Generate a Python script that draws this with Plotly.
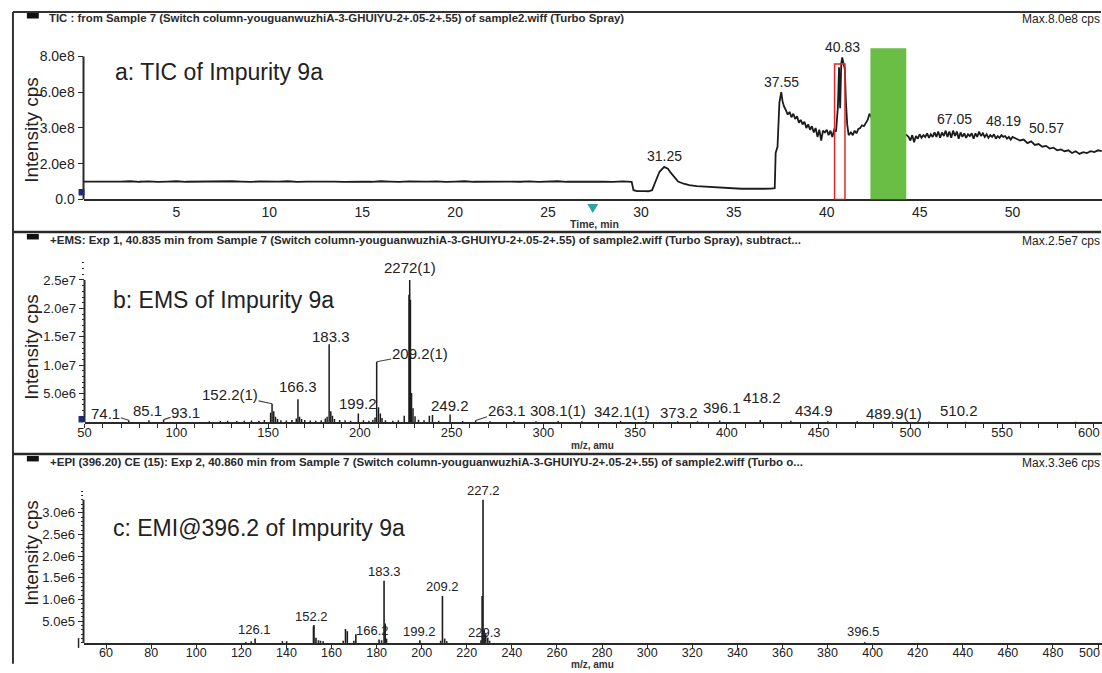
import plotly.graph_objects as go

W, H = 1102, 673
# the page is photographed a little taller than the figure, so vertical
# layout positions are laid out on a slightly stretched pixel grid
SY = 681 / 673
FONT = "Liberation Sans, Arial, sans-serif"
INK = "#222222"
AXIS = "#2a2a2a"

# ---------------- panel a: total ion chromatogram (intensity in 1e8 cps)
tic_time = [
    0.0, 0.5, 1.0, 1.5, 2.0, 2.5, 3.0, 3.5, 4.0, 4.5,
    5.0, 5.5, 6.0, 6.5, 7.0, 7.5, 8.0, 8.5, 9.0, 9.5,
    10.0, 10.5, 11.0, 11.5, 12.0, 12.5, 13.0, 13.5, 14.0, 14.5,
    15.0, 15.5, 16.0, 16.5, 17.0, 17.5, 18.0, 18.5, 19.0, 19.5,
    20.0, 20.5, 21.0, 21.5, 22.0, 22.5, 23.0, 23.5, 24.0, 24.5,
    25.0, 25.5, 26.0, 26.5, 27.0, 27.5, 28.0, 28.5, 29.0, 29.5,
    29.6, 29.8, 30.0, 30.2, 30.4, 30.6, 30.8, 31.0, 31.25, 31.45,
    31.6, 31.8, 32.0, 32.3, 32.6, 33.0, 33.4, 33.8, 34.2, 34.6,
    35.0, 35.4, 35.8, 36.2, 36.6, 37.0, 37.2, 37.25, 37.35, 37.45,
    37.55, 37.62, 37.7, 37.8, 37.9, 38.0, 38.1, 38.2, 38.3, 38.4,
    38.5, 38.6, 38.7, 38.8, 38.9, 39.0, 39.1, 39.2, 39.3, 39.4,
    39.5, 39.6, 39.7, 39.8, 39.9, 40.0, 40.1, 40.2, 40.3, 40.4,
    40.5, 40.6, 40.66, 40.72, 40.78, 40.83, 40.9, 40.97, 41.03, 41.1,
    41.18, 41.3, 41.4, 41.5, 41.6, 41.7, 41.8, 41.9, 42.0, 42.1,
    42.2, 42.3, 42.4, 42.8, 43.4, 44.0, 44.3, 44.4, 44.5, 44.6,
    44.7, 44.8, 44.9, 45.0, 45.1, 45.2, 45.3, 45.4, 45.5, 45.6,
    45.7, 45.8, 45.9, 46.0, 46.1, 46.2, 46.3, 46.4, 46.5, 46.6,
    46.7, 46.8, 46.9, 47.0, 47.1, 47.2, 47.3, 47.4, 47.5, 47.6,
    47.7, 47.8, 47.9, 48.0, 48.1, 48.2, 48.3, 48.4, 48.5, 48.6,
    48.7, 48.8, 48.9, 49.0, 49.1, 49.2, 49.3, 49.4, 49.5, 49.6,
    49.7, 49.8, 49.9, 50.0, 50.2, 50.4, 50.6, 50.8, 51.0, 51.2,
    51.4, 51.6, 51.8, 52.0, 52.2, 52.4, 52.6, 52.8, 53.0, 53.2,
    53.4, 53.6, 53.8, 54.0, 54.2, 54.4, 54.6, 54.8,
]
tic_intensity = [
    1.00, 0.99, 1.01, 0.98, 1.00, 1.02, 0.99, 1.01, 0.98, 1.00,
    1.02, 0.99, 1.00, 0.98, 1.01, 0.99, 1.02, 1.00, 0.98, 1.01,
    0.99, 1.00, 1.02, 0.98, 1.00, 1.01, 0.99, 1.00, 0.98, 1.01,
    1.00, 0.99, 1.02, 1.00, 0.98, 1.01, 0.99, 1.00, 1.01, 0.98,
    1.00, 1.02, 0.99, 1.00, 0.98, 1.01, 1.00, 0.99, 1.01, 0.98,
    1.00, 1.02, 0.99, 1.00, 1.01, 0.99, 1.00, 0.98, 1.01, 0.99,
    0.52, 0.47, 0.45, 0.47, 0.46, 0.52, 1.05, 1.55, 1.82, 1.72,
    1.50, 1.22, 1.00, 0.88, 0.80, 0.75, 0.72, 0.68, 0.66, 0.63,
    0.62, 0.60, 0.61, 0.59, 0.60, 0.61, 0.63, 2.60, 2.95, 5.40,
    6.00, 5.50, 5.20, 5.00, 4.75, 4.90, 4.60, 4.80, 4.50, 4.65,
    4.30, 4.45, 4.20, 4.35, 4.00, 4.20, 3.90, 4.10, 3.75, 4.00,
    3.50, 3.90, 3.30, 3.85, 3.75, 3.90, 3.60, 3.85, 3.50, 3.90,
    3.80, 5.20, 7.40, 5.10, 7.60, 7.95, 7.50, 7.30, 5.50, 4.20,
    3.60, 3.75, 3.60, 3.85, 3.70, 3.95, 4.00, 4.15, 4.10, 4.30,
    4.45, 4.80, 4.60, 4.40, 4.10, 3.80, 3.60, 3.50, 3.30, 3.60,
    3.20, 3.55, 3.40, 3.65, 3.45, 3.60, 3.50, 3.70, 3.45, 3.65,
    3.50, 3.75, 3.50, 3.80, 3.45, 3.75, 3.55, 3.85, 3.50, 3.80,
    3.45, 3.85, 3.55, 3.80, 3.40, 3.75, 3.50, 3.70, 3.45, 3.65,
    3.55, 3.70, 3.40, 3.70, 3.50, 3.80, 3.55, 3.70, 3.50, 3.65,
    3.45, 3.60, 3.50, 3.65, 3.40, 3.55, 3.45, 3.60, 3.50, 3.55,
    3.40, 3.50, 3.35, 3.50, 3.40, 3.30, 3.35, 3.15, 3.25, 3.05,
    3.10, 2.95, 3.00, 2.85, 2.90, 2.75, 2.80, 2.70, 2.75, 2.60,
    2.70, 2.55, 2.65, 2.60, 2.70, 2.65, 2.75, 2.70,
]
tic_peak_labels = ["31.25", "37.55", "40.83"]
tic_peak_times = [31.25, 37.55, 40.83]
tic_extra_labels = ["67.05", "48.19", "50.57"]
tic_extra_times = [46.85, 49.5, 51.8]
tic_extra_levels = [4.5, 4.39, 4.0]
tic_xtick_vals = [5, 10, 15, 20, 25, 30, 35, 40, 45, 50]
tic_ytick_vals = [0, 2, 4, 6, 8]
tic_ytick_text = ["0.0", "2.0e8", "3.0e8", "6.0e8", "8.0e8"]
selected_window = [40.42, 40.98]   # extracted scan window
selected_top = 7.58
masked_window = [42.35, 44.28]     # masked region
masked_top = 8.46

# ---------------- panel b: enhanced MS at 40.835 min (intensity in 1e6 cps)
ems_mz = [74.1, 85.1, 93.1, 118, 124, 128, 133, 137, 141, 145,
          148, 151.4, 152.2, 153.1, 154.1, 155.2, 157, 160, 163, 165.4,
          166.3, 167.2, 168.3, 170, 173, 176, 179, 181.2, 182.2, 183.3,
          184.2, 185.1, 186.2, 189, 192, 195, 199.2, 202, 205, 207.1,
          208.3, 209.2, 210.2, 211.2, 212.1, 214, 218, 221, 224.2, 226.8,
          227.2, 227.6, 228.2, 229.0, 230.1, 232, 235, 237.9, 239.6, 243,
          249.2, 256, 263.1, 271, 284, 296, 308.1, 321, 342.1, 356,
          373.2, 384, 396.1, 418.2, 434.9, 455, 471, 489.9, 510.2, 530,
          560, 590]
ems_int = [0.3, 0.3, 0.4, 0.1, 0.15, 0.2, 0.15, 0.2, 0.25, 0.2,
           0.35, 1.6, 3.2, 1.9, 0.9, 0.5, 0.3, 0.25, 0.35, 0.6,
           4.0, 0.9, 0.5, 0.35, 0.25, 0.2, 0.3, 0.6, 0.9, 13.7,
           1.9, 1.1, 0.5, 0.35, 0.3, 0.2, 1.5, 0.3, 0.2, 0.4,
           0.8, 10.6, 2.6, 1.5, 0.7, 0.3, 0.2, 0.3, 1.1, 22.4,
           25.0, 21.5, 5.1, 2.4, 1.0, 0.4, 0.3, 1.1, 1.2, 0.2,
           1.3, 0.15, 0.25, 0.1, 0.15, 0.1, 0.15, 0.1, 0.15, 0.1,
           0.1, 0.1, 0.25, 0.35, 0.2, 0.1, 0.1, 0.08, 0.08, 0.05,
           0.05, 0.05]
ems_labels = ["74.1", "85.1", "93.1", "152.2(1)", "166.3", "183.3", "199.2",
              "209.2(1)", "2272(1)", "249.2", "263.1", "308.1(1)", "342.1(1)",
              "373.2", "396.1", "418.2", "434.9", "489.9(1)", "510.2"]
ems_label_mz = [74.1, 85.1, 93.1, 152.2, 166.3, 183.3, 199.2,
                209.2, 227.2, 249.2, 263.1, 308.1, 342.1,
                373.2, 396.1, 418.2, 434.9, 489.9, 510.2]
ems_xtick_vals = [50, 100, 150, 200, 250, 300, 350, 400, 450, 500, 550, 600]
ems_ytick_vals = [5, 10, 15, 20, 25]
ems_ytick_text = ["5.0e6", "1.0e7", "1.5e7", "2.0e7", "2.5e7"]

# ---------------- panel c: product-ion spectrum of m/z 396.2 (intensity in 1e6 cps)
emi_mz = [122.0, 124.4, 126.1, 138.2, 140.1, 152.0, 152.2, 153.1, 154.2, 155.1,
          156.3, 165.2, 166.2, 167.0, 169.9, 170.8, 181.1, 182.2, 183.3, 183.8,
          184.4, 199.2, 208.4, 209.2, 210.2, 211.1, 226.3, 226.8, 227.2, 227.7,
          228.4, 229.3, 230.1, 396.5]
emi_int = [0.02, 0.04, 0.10, 0.04, 0.04, 0.38, 0.41, 0.12, 0.06, 0.05,
           0.04, 0.05, 0.32, 0.27, 0.05, 0.20, 0.08, 0.06, 1.43, 0.45,
           0.10, 0.06, 0.05, 1.08, 0.10, 0.04, 0.06, 1.08, 3.30, 0.30,
           0.20, 0.12, 0.05, 0.02]
emi_labels = ["126.1", "152.2", "166.2", "183.3", "199.2", "209.2", "227.2", "229.3", "396.5"]
emi_label_mz = [126.1, 152.2, 166.2, 183.3, 199.2, 209.2, 227.2, 229.3, 396.5]
emi_xtick_vals = list(range(60, 520, 20))
emi_ytick_vals = [0.5, 1.0, 1.5, 2.0, 2.5, 3.0]
emi_ytick_text = ["5.0e5", "1.0e6", "1.5e6", "2.0e6", "2.5e6", "3.0e6"]


def X(px):
    return px / W


def Y(py):
    return 1 - py * SY / H


def sticks(mz, inten):
    xs, ys = [], []
    for m, v in zip(mz, inten):
        xs += [m, m, None]
        ys += [0, v, None]
    return xs, ys


fig = go.Figure()

fig.add_trace(go.Scatter(x=tic_time, y=tic_intensity, mode="lines",
                         line=dict(color="#1c1c1c", width=1.8),
                         xaxis="x", yaxis="y", hoverinfo="skip"))
bx, by = sticks(ems_mz, ems_int)
fig.add_trace(go.Scatter(x=bx, y=by, mode="lines",
                         line=dict(color="#1c1c1c", width=1.5),
                         xaxis="x2", yaxis="y2", hoverinfo="skip"))
cx, cy = sticks(emi_mz, emi_int)
fig.add_trace(go.Scatter(x=cx, y=cy, mode="lines",
                         line=dict(color="#1c1c1c", width=1.6),
                         xaxis="x3", yaxis="y3", hoverinfo="skip"))

tick_font = dict(family=FONT, size=14, color=INK)
small_tick_font = dict(family=FONT, size=13, color=INK)


def xaxis_style(domain, rng, anchor, font, **kw):
    # labels sit right under the line; tick marks come from the minor ticks
    d = dict(domain=domain, range=rng, anchor=anchor, showgrid=False, zeroline=False,
             showline=True, linewidth=2, linecolor=AXIS, ticks="",
             tickfont=font, fixedrange=True, tickmode="array")
    d.update(kw)
    return d


def yaxis_style(domain, rng, anchor, font, **kw):
    d = dict(domain=domain, range=rng, anchor=anchor, showgrid=False, zeroline=False,
             showline=False, ticks="outside", tickcolor=AXIS, tickwidth=1,
             ticklen=5, tickfont=font, fixedrange=True, tickmode="array")
    d.update(kw)
    return d


# panel geometry (target pixels)
A_X0, A_BOT, A_TOP, A_PX_PER_MIN = 77, 199.5, 40, 18.7
A_PX_PER_UNIT = 17.875
B_X0, B_BOT, B_TOP, B_PX_PER_MZ, B_PX_PER_UNIT = 78, 422, 262, 1.847, 5.68
C_X0, C_BOT, C_TOP, C_PX_PER_MZ, C_PX_PER_UNIT = 77, 643, 488, 2.269, 43.4

a_xmax = (W - A_X0) / A_PX_PER_MIN
b_xmax = 50 + (W - B_X0) / B_PX_PER_MZ
c_xmax = 50 + (W - C_X0) / C_PX_PER_MZ

# tick labels that would run past the right edge are placed separately below
b_inner = [v for v in ems_xtick_vals if B_X0 + (v - 50) * B_PX_PER_MZ < W - 14]
c_inner = [v for v in emi_xtick_vals if C_X0 + (v - 50) * C_PX_PER_MZ < W - 14]
b_edge = [v for v in ems_xtick_vals if v not in b_inner]
c_edge = [v for v in emi_xtick_vals if v not in c_inner and v <= c_xmax]

fig.update_layout(
    xaxis=xaxis_style([X(A_X0), 1], [0, a_xmax], "y", tick_font,
                      tickvals=tic_xtick_vals),
    yaxis=yaxis_style([Y(A_BOT), Y(A_TOP)], [0, (A_BOT - A_TOP) / A_PX_PER_UNIT], "x",
                      tick_font, tickvals=tic_ytick_vals, ticktext=tic_ytick_text),
    xaxis2=xaxis_style([X(B_X0), 1], [50, b_xmax], "y2", small_tick_font,
                       tickvals=ems_xtick_vals,
                       ticktext=[str(v) if v in b_inner else "" for v in ems_xtick_vals],
                       minor=dict(tick0=50, dtick=10, ticklen=4, ticks="outside",
                                  tickcolor=AXIS)),
    yaxis2=yaxis_style([Y(B_BOT), Y(B_TOP)], [0, (B_BOT - B_TOP) / B_PX_PER_UNIT], "x2",
                       small_tick_font, tickvals=ems_ytick_vals, ticktext=ems_ytick_text,
                       minor=dict(dtick=1, ticklen=2, ticks="outside", tickcolor=AXIS)),
    xaxis3=xaxis_style([X(C_X0), 1], [50, c_xmax], "y3",
                       dict(family=FONT, size=12.5, color=INK),
                       tickvals=emi_xtick_vals,
                       ticktext=[str(v) if v in c_inner else "" for v in emi_xtick_vals],
                       minor=dict(tick0=0, dtick=20, ticklen=4, ticks="outside",
                                  tickcolor=AXIS)),
    yaxis3=yaxis_style([Y(C_BOT), Y(C_TOP)], [0, (C_BOT - C_TOP) / C_PX_PER_UNIT], "x3",
                       small_tick_font, tickvals=emi_ytick_vals, ticktext=emi_ytick_text,
                       minor=dict(dtick=0.1, ticklen=2, ticks="outside", tickcolor=AXIS)),
    width=W, height=H, margin=dict(l=0, r=0, t=0, b=0),
    paper_bgcolor="white", plot_bgcolor="white", showlegend=False,
    font=dict(family=FONT, color=INK),
)

# pull the m/z and time labels a little closer to their axis lines
for name, pull in (("xaxis", -1), ("xaxis2", -3), ("xaxis3", -3)):
    try:
        fig.layout[name].ticklabelstandoff = pull
    except (ValueError, AttributeError):
        pass

shapes = []
# frame and panel dividers
shapes.append(dict(type="line", xref="paper", yref="paper", x0=X(6), x1=X(1101), y0=Y(12), y1=Y(12),
                   line=dict(color="#333", width=2)))
shapes.append(dict(type="line", xref="paper", yref="paper", x0=X(6), x1=X(6), y0=Y(12), y1=0.002,
                   line=dict(color="#333", width=2)))
for yd in (232, 454):
    shapes.append(dict(type="line", xref="paper", yref="paper", x0=X(6), x1=X(1101), y0=Y(yd), y1=Y(yd),
                       line=dict(color="#2a2a2a", width=2.5)))
# small black header tags
for yt in (13, 234, 456):
    shapes.append(dict(type="rect", xref="paper", yref="paper", x0=X(20), x1=X(32),
                       y0=Y(yt), y1=Y(yt + 5.5), fillcolor="#111", line=dict(width=0)))
# vertical axis lines ending at the top tick
shapes.append(dict(type="line", xref="x domain", yref="y", x0=0, x1=0, y0=0, y1=tic_ytick_vals[-1],
                   line=dict(color=AXIS, width=2)))
shapes.append(dict(type="line", xref="x2 domain", yref="y2", x0=0, x1=0, y0=0, y1=ems_ytick_vals[-1],
                   line=dict(color=AXIS, width=2)))
shapes.append(dict(type="line", xref="x3 domain", yref="y3", x0=0, x1=0, y0=0, y1=max(emi_int),
                   line=dict(color=AXIS, width=2)))
shapes.append(dict(type="line", xref="paper", yref="paper", x0=X(72), x1=X(72), y0=Y(638), y1=Y(648),
                   line=dict(color=AXIS, width=1.5)))
# origin markers
for yo in (189, 416):
    shapes.append(dict(type="rect", xref="paper", yref="paper", x0=X(72), x1=X(78),
                       y0=Y(yo), y1=Y(yo + 6.5), fillcolor="#1f2a7a", line=dict(width=0)))
# highlighted windows on the chromatogram
shapes.append(dict(type="rect", xref="x", yref="y", x0=masked_window[0], x1=masked_window[1],
                   y0=0, y1=masked_top, fillcolor="#6abd45", line=dict(width=0), layer="above"))
shapes.append(dict(type="rect", xref="x", yref="y", x0=selected_window[0], x1=selected_window[1],
                   y0=0, y1=selected_top, fillcolor="rgba(0,0,0,0)",
                   line=dict(color="#e3262b", width=1.5), layer="above"))
# current-time marker under the time axis
shapes.append(dict(type="path", xref="paper", yref="paper",
                   path=f"M {X(584)} {Y(204)} L {X(595)} {Y(204)} L {X(589.5)} {Y(213)} Z",
                   fillcolor="#2ea3a6", line=dict(width=0)))
fig.update_layout(shapes=shapes)

ann = []


def text_px(txt, px, py, size, xanchor="left", bold=False, color=INK, angle=0):
    ann.append(dict(text=f"<b>{txt}</b>" if bold else txt, xref="paper", yref="paper",
                    x=X(px), y=Y(py), xanchor=xanchor, yanchor="middle", showarrow=False,
                    textangle=angle, borderpad=0,
                    font=dict(family=FONT, size=size, color=color)))


# headers
text_px("TIC : from Sample 7 (Switch column-youguanwuzhiA-3-GHUIYU-2+.05-2+.55) of sample2.wiff (Turbo Spray)",
        41, 18, 11.4, bold=True, color="#2a2a2a")
text_px("+EMS: Exp 1, 40.835 min from Sample 7 (Switch column-youguanwuzhiA-3-GHUIYU-2+.05-2+.55) of sample2.wiff (Turbo Spray), subtract...",
        42, 240, 11.5, bold=True, color="#2a2a2a")
text_px("+EPI (396.20) CE (15): Exp 2, 40.860 min from Sample 7 (Switch column-youguanwuzhiA-3-GHUIYU-2+.05-2+.55) of sample2.wiff (Turbo o...",
        42, 462, 11.5, bold=True, color="#2a2a2a")
text_px("Max.8.0e8 cps", 1101, 19, 12, xanchor="right")
text_px("Max.2.5e7 cps", 1101, 241, 12, xanchor="right")
text_px("Max.3.3e6 cps", 1101, 463, 12, xanchor="right")

# edge tick labels, kept inside the figure
for v in b_edge:
    text_px(str(v), 1101, 432.5, 13, xanchor="right")
for v in c_edge:
    text_px(str(v), 1101, 653, 12.5, xanchor="right")

# panel titles
text_px("a: TIC of Impurity 9a", 108, 72, 23)
text_px("b: EMS of Impurity 9a", 106, 300, 23)
text_px("c: EMI@396.2 of Impurity 9a", 106, 528, 23)

# axis titles
for yc in (130, 347, 553):
    text_px("Intensity cps", 25, yc, 19, xanchor="center", angle=-90)
text_px("Time, min", 591, 224, 10.5, xanchor="center", bold=True, color="#333")
text_px("m/z, amu", 589, 446, 10, xanchor="center", bold=True, color="#333")
text_px("m/z, amu", 589, 664.5, 10, xanchor="center", bold=True, color="#333")

# chromatogram peak labels
tic_lookup = dict(zip(tic_time, tic_intensity))
for lab, t, dy in zip(tic_peak_labels, tic_peak_times, [11, 10.5, 10.5]):
    ann.append(dict(text=lab, x=t, y=tic_lookup[t], xref="x", yref="y", xanchor="center",
                    yanchor="middle", yshift=dy * SY, showarrow=False,
                    font=dict(family=FONT, size=14, color=INK)))
for lab, t, lv in zip(tic_extra_labels, tic_extra_times, tic_extra_levels):
    ann.append(dict(text=lab, x=t, y=lv, xref="x", yref="y", xanchor="center",
                    yanchor="middle", showarrow=False,
                    font=dict(family=FONT, size=14, color=INK)))

# spectrum labels: (dx, dy) text offset in px, or arrow=(ax, ay) leader line
ems_offsets = [("arrow", -23, -7), (-1, 10), ("arrow", 22, -7), ("arrow", -42, -9),
               (0, 13), (1.5, 8), (0, 9.5), ("arrow", 43, -8), (0, 12), (0, 9),
               ("arrow", 31, -10), (0, 10), (1.5, 9), (1, 8.5), (2, 12.5), (2, 22),
               (23, 10), (2, 7.5), (30, 10.5)]
ems_lookup = dict(zip(ems_mz, ems_int))
for lab, m, off in zip(ems_labels, ems_label_mz, ems_offsets):
    base = dict(text=lab, x=m, y=ems_lookup[m], xref="x2", yref="y2",
                font=dict(family=FONT, size=15, color=INK))
    if off[0] == "arrow":
        base.update(showarrow=True, ax=off[1], ay=off[2] * SY, arrowhead=0, arrowwidth=1.2,
                    arrowcolor="#444", standoff=0, borderpad=0)
    else:
        base.update(showarrow=False, xanchor="center", yanchor="middle",
                    xshift=off[0], yshift=off[1] * SY)
    ann.append(base)

emi_offsets = [(-0.7, 8.7), (-2, 9), (27, -1), (0, 9), (0, 8.4), (0, 9), (0, 9), (-3, 5), (-1, 10)]
emi_lookup = dict(zip(emi_mz, emi_int))
for lab, m, off in zip(emi_labels, emi_label_mz, emi_offsets):
    ann.append(dict(text=lab, x=m, y=emi_lookup[m], xref="x3", yref="y3", showarrow=False,
                    xanchor="center", yanchor="middle", xshift=off[0], yshift=off[1] * SY,
                    font=dict(family=FONT, size=13, color=INK)))

fig.update_layout(annotations=ann)

fig.write_html("out.html", config={"displayModeBar": False, "staticPlot": True})
